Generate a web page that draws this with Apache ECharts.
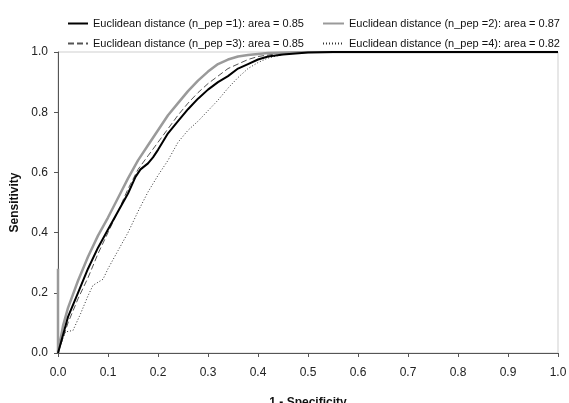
<!DOCTYPE html>
<html>
<head>
<meta charset="utf-8">
<script src="https://cdn.jsdelivr.net/npm/echarts@6/dist/echarts.min.js"></script>
<style>
  html, body { margin: 0; padding: 0; background: #fff; }
  #main { width: 569px; height: 403px; }
</style>
</head>
<body>
<div id="main"></div>
<script>
// series names
var names = [
  'Euclidean distance (n_pep =1): area = 0.85',
  'Euclidean distance (n_pep =2): area = 0.87',
  'Euclidean distance (n_pep =3): area = 0.85',
  'Euclidean distance (n_pep =4): area = 0.82'
];

// [1 - specificity, sensitivity]
var pep1 = [[0,0],[0.01,0.06],[0.02,0.12],[0.04,0.2],[0.06,0.28],[0.08,0.35],[0.1,0.41],
  [0.12,0.47],[0.14,0.53],[0.155,0.585],[0.165,0.61],[0.18,0.63],[0.19,0.65],[0.2,0.675],
  [0.22,0.73],[0.24,0.77],[0.26,0.81],[0.28,0.845],[0.3,0.875],[0.32,0.9],[0.34,0.92],
  [0.36,0.945],[0.38,0.96],[0.4,0.975],[0.42,0.985],[0.45,0.992],[0.5,0.998],[0.55,1],[1,1]];

var pep2 = [[0,0.28],[0,0],[0.01,0.09],[0.02,0.15],[0.04,0.24],[0.06,0.32],[0.08,0.39],
  [0.1,0.45],[0.12,0.515],[0.14,0.58],[0.16,0.64],[0.18,0.69],[0.2,0.74],[0.22,0.79],
  [0.24,0.83],[0.26,0.87],[0.28,0.905],[0.3,0.935],[0.32,0.96],[0.34,0.975],[0.36,0.985],
  [0.38,0.99],[0.42,0.997],[0.5,1],[1,1]];

var pep3 = [[0,0],[0.01,0.05],[0.02,0.1],[0.04,0.18],[0.06,0.25],[0.08,0.33],[0.1,0.4],
  [0.12,0.47],[0.14,0.545],[0.16,0.61],[0.18,0.655],[0.2,0.7],[0.22,0.745],[0.24,0.79],
  [0.26,0.83],[0.28,0.865],[0.3,0.895],[0.32,0.92],[0.34,0.945],[0.36,0.96],[0.38,0.975],
  [0.4,0.985],[0.44,0.995],[0.5,1],[1,1]];

var pep4 = [[0,0],[0.01,0.05],[0.015,0.07],[0.03,0.075],[0.045,0.13],[0.06,0.19],[0.07,0.225],
  [0.08,0.235],[0.09,0.245],[0.1,0.28],[0.12,0.34],[0.14,0.4],[0.16,0.47],[0.18,0.535],
  [0.2,0.59],[0.22,0.64],[0.24,0.7],[0.26,0.74],[0.28,0.77],[0.3,0.805],[0.32,0.84],
  [0.34,0.88],[0.36,0.915],[0.38,0.945],[0.4,0.965],[0.42,0.98],[0.45,0.992],[0.5,1],[1,1]];

var chart = echarts.init(document.getElementById('main'), null, { renderer: 'canvas' });

var font = 'Liberation Sans, Arial, sans-serif';
var legendText = { color: '#111', fontSize: 11, fontFamily: font };

function line(name, data, color, width, type) {
  return {
    name: name,
    type: 'line',
    data: data,
    symbol: 'none',
    smooth: false,
    animation: false,
    lineStyle: { color: color, width: width, type: type },
    itemStyle: { color: color }
  };
}

chart.setOption({
  backgroundColor: '#fff',
  legend: [
    {
      data: [names[0], names[2]],
      orient: 'vertical',
      left: 67, top: 18, padding: 0,
      itemWidth: 20, itemHeight: 12, itemGap: 9,
      itemStyle: { opacity: 0 },
      textStyle: legendText
    },
    {
      data: [names[1], names[3]],
      orient: 'vertical',
      left: 322, top: 18, padding: 0,
      itemWidth: 21, itemHeight: 12, itemGap: 9,
      itemStyle: { opacity: 0 },
      textStyle: legendText
    }
  ],
  grid: {
    left: 58, right: 11, top: 52, bottom: 50,
    outerBoundsMode: 'none',
    show: true, borderColor: '#cfcfcf', borderWidth: 1
  },
  xAxis: {
    type: 'value',
    min: 0, max: 1, interval: 0.1,
    name: '1 - Specificity',
    nameLocation: 'middle',
    nameGap: 44,
    nameTextStyle: { fontWeight: 'bold', fontSize: 12, color: '#111', fontFamily: font },
    axisLine: { show: true, lineStyle: { color: '#555' } },
    axisTick: { show: true, length: 4, lineStyle: { color: '#555' } },
    axisLabel: { color: '#222', fontSize: 12, margin: 14, fontFamily: font,
      formatter: function (v) { return v.toFixed(1); } },
    splitLine: { show: false }
  },
  yAxis: {
    type: 'value',
    min: 0, max: 1, interval: 0.2,
    name: 'Sensitivity',
    nameLocation: 'middle',
    nameGap: 31,
    nameTextStyle: { fontWeight: 'bold', fontSize: 12, color: '#111', fontFamily: font },
    axisLine: { show: true, lineStyle: { color: '#555' } },
    axisTick: { show: true, length: 4, lineStyle: { color: '#555' } },
    axisLabel: { color: '#222', fontSize: 12, margin: 10, fontFamily: font,
      formatter: function (v) { return v.toFixed(1); } },
    splitLine: { show: false }
  },
  series: [
    line(names[3], pep4, '#333', 1, [1, 2]),
    line(names[2], pep3, '#555', 1, [6, 3]),
    line(names[1], pep2, '#9a9a9a', 2.5, 'solid'),
    line(names[0], pep1, '#000', 2, 'solid')
  ]
});
</script>
</body>
</html>
